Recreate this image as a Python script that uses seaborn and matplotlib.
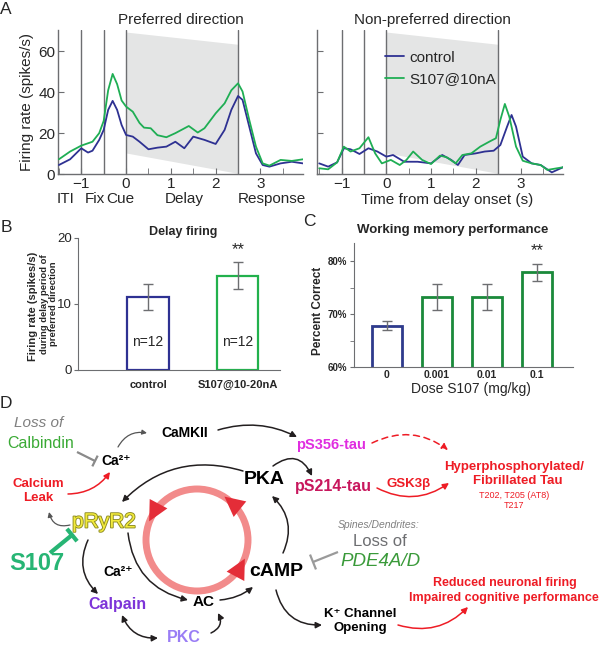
import numpy as np
import pandas as pd
import matplotlib
matplotlib.use('Agg')
import matplotlib.pyplot as plt
import matplotlib.patheffects as pe
from matplotlib.patches import Circle
from matplotlib.ticker import MultipleLocator, FixedLocator
import seaborn as sns

# ---------------- data ----------------
# Panel A, preferred direction (spikes/s)
pref_t_ctrl = [-1.5, -1.25, -1.0, -0.85, -0.75, -0.6, -0.5, -0.4, -0.3, -0.2, -0.1, 0.0, 0.15, 0.3, 0.5,
               0.7, 0.9, 1.1, 1.3, 1.5, 1.75, 2.0, 2.2, 2.35, 2.5, 2.6, 2.75, 2.9, 3.05, 3.2, 3.45, 3.7, 3.95]
pref_ctrl = [4.4, 7.2, 12.6, 10.5, 11.4, 16.7, 21.6, 31.4, 35.8, 31.4, 24, 19.1, 18.3, 15.8, 12.1,
             12.9, 13.4, 15.8, 12.6, 18.3, 16.7, 14.7, 21.6, 31.4, 38.2, 36.3, 23.2, 10.1, 4.4, 3.6, 5.2, 6, 5.2]
pref_t_s107 = [-1.5, -1.25, -1.0, -0.75, -0.6, -0.5, -0.4, -0.3, -0.2, -0.1, 0.0, 0.15, 0.3, 0.4, 0.55,
               0.7, 0.9, 1.1, 1.4, 1.6, 1.75, 2.0, 2.2, 2.35, 2.5, 2.6, 2.75, 2.9, 3.05, 3.2, 3.45, 3.7, 3.95]
pref_s107 = [7.2, 11, 13.9, 15.8, 20, 26, 41, 49, 44, 36, 33, 30.5, 25, 22.7, 22.4,
             19, 18, 20, 23.5, 20.3, 22.4, 29.7, 34.6, 41, 44.4, 40.4, 26.5, 13.4, 5.2, 4.1, 6.9, 6.4, 7.2]

# Panel A, non-preferred direction (spikes/s)
np_t_ctrl = [-1.5, -1.3, -1.1, -0.95, -0.8, -0.6, -0.4, -0.2, 0.0, 0.15, 0.4, 0.7, 1.0, 1.25, 1.45,
             1.6, 1.75, 2.0, 2.2, 2.4, 2.55, 2.7, 2.8, 2.9, 3.05, 3.25, 3.45, 3.7, 3.95]
np_ctrl = [5.2, 3.6, 5.7, 12.6, 12.1, 9.8, 12.6, 11, 8.5, 9.3, 6, 6, 5.2, 9.3, 6.9,
           4.4, 9.3, 10.1, 11, 11.4, 14.2, 23.2, 28.9, 23.2, 8.5, 5.2, 4.4, 0.8, 3.3]
np_t_s107 = [-1.5, -1.3, -1.1, -0.95, -0.8, -0.6, -0.4, -0.25, -0.1, 0.1, 0.3, 0.45, 0.6, 0.8, 1.0, 1.2,
             1.35, 1.55, 1.7, 1.9, 2.1, 2.3, 2.45, 2.55, 2.65, 2.75, 2.9, 3.05, 3.25, 3.45, 3.6, 3.95]
np_s107 = [2.8, 2.3, 5.7, 13.4, 11, 12.6, 18, 10.1, 5.2, 6.9, 4.4, 6.9, 11, 6.9, 4.9, 9,
           8.2, 5.2, 9.3, 10.1, 13.4, 15.8, 17.5, 26.5, 34.3, 28, 13.4, 6.5, 5.2, 4.4, 2, 3.3]

event_times = [-1.0, -0.5, 0.0, 2.5]
delay_window = [0.0, 2.5]
shade_top = [69.5, 63.5]
shade_bottom = [10.3, 0.3]
phase_labels = ['ITI', 'Fix', 'Cue', 'Delay', 'Response']

# Panel B, delay firing
b_groups = ['control', 'S107@10-20nA']
b_mean = [11.1, 14.3]
b_sem = [2.0, 2.0]
b_n = ['n=12', 'n=12']

# Panel C, working memory performance
c_doses = ['0', '0.001', '0.01', '0.1']
c_mean = [67.8, 73.2, 73.2, 77.9]
c_sem = [0.8, 2.5, 2.5, 1.6]

BLUE = '#2e3192'
GREEN = '#1fae54'
GRAY = '#6d6e71'
RED = '#ee1c25'

sns.set_style('ticks')
plt.rcParams['font.family'] = ['Liberation Sans', 'DejaVu Sans']

fig = plt.figure(figsize=(6.0, 6.47), dpi=100)


def style_trace_axes(ax):
    ax.set_xlim(-1.52, 3.95)
    ax.set_ylim(0, 70.5)
    sns.despine(ax=ax)
    for s in ['left', 'bottom']:
        ax.spines[s].set_color(GRAY)
        ax.spines[s].set_linewidth(1)
    ax.set_xticks([-1, 0, 1, 2, 3])
    ax.xaxis.set_minor_locator(MultipleLocator(0.5))
    ax.set_yticks([0, 20, 40, 60])
    ax.tick_params(which='both', direction='in', color=GRAY, labelsize=11, length=4, pad=2)
    for t in event_times:
        ax.axvline(t, color=GRAY, lw=1, zorder=1)
    ax.fill_between(delay_window, shade_bottom, shade_top, color='#e4e5e5', lw=0, zorder=0)


# ---------------- Panel A left ----------------
axL = fig.add_axes([58 / 600, 1 - 174 / 647, 245 / 600, 144 / 647])
style_trace_axes(axL)
sns.lineplot(x=pref_t_ctrl, y=pref_ctrl, ax=axL, color=BLUE, lw=1.3, zorder=3)
sns.lineplot(x=pref_t_s107, y=pref_s107, ax=axL, color=GREEN, lw=1.3, zorder=3)
axL.set_ylabel('Firing rate (spikes/s)', fontsize=11)
axL.yaxis.set_label_coords(-0.1, 0.5)
axL.text(0.5, 1.07, 'Preferred direction', transform=axL.transAxes, ha='center', va='center', fontsize=11)
for lab, x in zip(phase_labels, [-1.36, -0.7, -0.12, 1.3, 3.25]):
    axL.text(x, -0.175, lab, transform=axL.get_xaxis_transform(), ha='center', va='center', fontsize=11)

# ---------------- Panel A right ----------------
axR = fig.add_axes([317 / 600, 1 - 174 / 647, 246 / 600, 144 / 647])
style_trace_axes(axR)
axR.set_xlim(-1.55, 3.95)
axR.set_yticklabels([])
sns.lineplot(x=np_t_ctrl, y=np_ctrl, ax=axR, color=BLUE, lw=1.3, zorder=3, label='control')
sns.lineplot(x=np_t_s107, y=np_s107, ax=axR, color=GREEN, lw=1.3, zorder=3, label='S107@10nA')
axR.legend(loc='upper left', bbox_to_anchor=(0.25, 0.9), frameon=False, fontsize=11,
           handlelength=1.3, handletextpad=0.3, labelspacing=0.5, borderaxespad=0)
axR.text(0.47, 1.07, 'Non-preferred direction', transform=axR.transAxes, ha='center', va='center', fontsize=11)
axR.text(0.53, -0.18, 'Time from delay onset (s)', transform=axR.transAxes, ha='center', va='center', fontsize=11)

# ---------------- Panel B ----------------
axB = fig.add_axes([78 / 600, 1 - 370 / 647, 202 / 600, 132 / 647])
sns.barplot(x=b_groups, y=b_mean, ax=axB, width=0.46, color='white')
for p, c in zip(axB.patches, [BLUE, '#22b14c']):
    p.set_facecolor('white')
    p.set_edgecolor(c)
    p.set_linewidth(1.6)
axB.errorbar(range(len(b_groups)), b_mean, yerr=b_sem, fmt='none', ecolor=GRAY, elinewidth=1, capsize=3.5)
for i, lab in enumerate(b_n):
    axB.text(i, 4.2, lab, ha='center', va='center', fontsize=10)
axB.text(1, 18.2, '**', ha='center', va='center', fontsize=12)
axB.set_xlim(-0.78, 1.47)
axB.set_ylim(0, 20)
axB.set_yticks([0, 10, 20])
sns.despine(ax=axB)
for s in ['left', 'bottom']:
    axB.spines[s].set_color(GRAY)
axB.tick_params(axis='y', labelsize=9.5, color=GRAY, length=3, pad=1.5)
axB.tick_params(axis='x', length=0, pad=7)
for t in axB.get_xticklabels():
    t.set_fontweight('bold')
    t.set_fontsize(8)
axB.text(0.52, 1.045, 'Delay firing', transform=axB.transAxes, ha='center', va='center',
         fontsize=9, fontweight='bold')

# ---------------- Panel C ----------------
axC = fig.add_axes([354 / 600, 1 - 367 / 647, 219 / 600, 124 / 647])
sns.barplot(x=c_doses, y=c_mean, ax=axC, width=0.6, color='white')
for p, c in zip(axC.patches, ['#2e3a8c', '#1a8a3a', '#1a8a3a', '#1a8a3a']):
    p.set_facecolor('white')
    p.set_edgecolor(c)
    p.set_linewidth(2)
axC.errorbar(range(len(c_doses)), c_mean, yerr=c_sem, fmt='none', ecolor=GRAY, elinewidth=1, capsize=3.5)
axC.text(3, 82, '**', ha='center', va='center', fontsize=12)
axC.set_xlim(-0.66, 3.72)
axC.set_ylim(60, 83.4)
axC.set_yticks([60, 70, 80])
axC.set_yticklabels(['60%', '70%', '80%'], fontweight='bold', fontsize=7)
axC.yaxis.set_minor_locator(FixedLocator([65, 75]))
sns.despine(ax=axC)
for s in ['left', 'bottom']:
    axC.spines[s].set_color(GRAY)
axC.tick_params(axis='y', which='both', color=GRAY, length=3, pad=2)
axC.tick_params(axis='x', length=0, pad=2)
for t in axC.get_xticklabels():
    t.set_fontweight('bold')
    t.set_fontsize(7.5)
axC.set_xlabel('Dose S107 (mg/kg)', fontsize=10)
axC.xaxis.set_label_coords(0.534, -0.12)
axC.set_ylabel('Percent Correct', fontsize=8.5, fontweight='bold')
axC.yaxis.set_label_coords(-0.135, 0.45)
axC.text(0.45, 1.105, 'Working memory performance', transform=axC.transAxes, ha='center', va='center',
         fontsize=9.5, fontweight='bold')

# ---------------- overlay: panel letters and panel D diagram ----------------
ov = fig.add_axes([0, 0, 1, 1], zorder=10)
ov.set_xlim(0, 600)
ov.set_ylim(647, 0)
ov.axis('off')
ov.patch.set_visible(False)

for lab, x, y in [('A', 6, 10), ('B', 6, 227), ('C', 309, 222), ('D', 6, 403)]:
    ov.text(x, y, lab, ha='center', va='center', fontsize=12.5)

# Panel B y label (three lines)
ov.text(33, 306, 'Firing rate (spikes/s)', rotation=90, ha='center', va='center', fontsize=8, fontweight='bold')
ov.text(49, 304, 'during delay period of\npreferred direction', rotation=90, ha='center', va='center',
        fontsize=6.8, fontweight='bold', linespacing=1.0)


def arrow(p0, p1, rad=0.0, color='#231f20', lw=1.1, ls='-', head=9, style='-|>'):
    ov.annotate('', xy=p1, xytext=p0,
                arrowprops=dict(arrowstyle=style, color=color, lw=lw, ls=ls, shrinkA=0, shrinkB=0,
                                connectionstyle=f'arc3,rad={rad}', mutation_scale=head))


def tbar(p0, p1, color, lw, blen):
    p0 = np.array(p0, float)
    p1 = np.array(p1, float)
    d = (p1 - p0) / np.hypot(*(p1 - p0))
    n = np.array([-d[1], d[0]]) * blen / 2
    ov.plot([p0[0], p1[0]], [p0[1], p1[1]], color=color, lw=lw, solid_capstyle='butt')
    ov.plot([p1[0] - n[0], p1[0] + n[0]], [p1[1] - n[1], p1[1] + n[1]], color=color, lw=lw,
            solid_capstyle='butt')


def label(x, y, s, size=10, color='black', weight='bold', style='normal', **kw):
    return ov.text(x, y, s, ha='center', va='center', fontsize=size, color=color,
                   fontweight=weight, fontstyle=style, **kw)


# central cycle ring
cx, cy, r = 197, 540, 51
ov.add_patch(Circle((cx, cy), r, fill=False, ec='#f28b8b', lw=5, zorder=2))
for th in [51, 152, -28]:
    a = np.deg2rad(th)
    pt = np.array([cx + r * np.cos(a), cy - r * np.sin(a)])
    tan = np.array([-np.sin(a), -np.cos(a)])
    ov.annotate('', xy=pt + tan * 6, xytext=pt - tan * 10,
                arrowprops=dict(arrowstyle='-|>,head_length=1.2,head_width=0.6', color='#e42d38',
                                lw=0, mutation_scale=12, shrinkA=0, shrinkB=0), zorder=3)

# node labels
label(39, 423, 'Loss of', size=11, color='#808080', weight='normal', style='italic')
label(41, 443, 'Calbindin', size=11.5, color='#3aaa35', weight='normal')
label(116, 461, 'Ca²⁺', size=10)
label(185, 433, 'CaMKII', size=10)
label(331, 445, 'pS356-tau', size=10.5, color='#e02de0')
label(333, 487, 'pS214-tau', size=11.5, color='#c8175d')
label(264, 480, 'PKA', size=14)
label(38, 491, 'Calcium\nLeak', size=9.5, color=RED, linespacing=1.2)
label(104, 522, 'pRyR2', size=15, color='#f2ea3c', weight='normal',
      path_effects=[pe.withStroke(linewidth=1.3, foreground='#8c8a20')])
label(37, 563, 'S107', size=17, color='#27b574')
label(118, 572, 'Ca²⁺', size=10)
label(117, 605, 'Calpain', size=11.5, color='#7d34d8')
label(204, 602, 'AC', size=11)
label(184, 638, 'PKC', size=11.5, color='#9a7df5')
label(276, 572, 'cAMP', size=14)
label(360, 621, 'K⁺ Channel\nOpening', size=9.5, linespacing=1.2)
label(505, 583, 'Reduced neuronal firing', size=9, color=RED)
label(504, 598, 'Impaired cognitive performance', size=9, color=RED)
label(379, 525, 'Spines/Dendrites:', size=7.5, color='#808080', weight='normal', style='italic')
label(380, 542, 'Loss of', size=12, color='#6d6e71', weight='normal')
label(380, 562, 'PDE4A/D', size=13.5, color='#3a9a3a', weight='normal', style='italic')
label(409, 484, 'GSK3β', size=9.5, color=RED)
label(514, 467, 'Hyperphosphorylated/', size=9.5, color=RED)
label(518, 481, 'Fibrillated Tau', size=9.5, color=RED)
label(514, 495, 'T202, T205 (AT8)', size=6.5, color=RED, weight='normal')
label(514, 506, 'T217', size=6.5, color=RED, weight='normal')

# inhibitions
tbar((77, 452), (95, 461), '#8a8a8a', 1.6, 12)
tbar((50, 553), (72, 535), '#27b574', 3, 16)
tbar((338, 552), (313, 562), '#9a9a9a', 1.6, 16)

# arrows
arrow((118, 447), (147, 433), rad=-0.35, color='#555555', lw=0.9, head=7)
arrow((218, 430), (297, 437), rad=-0.2)
arrow((243, 471), (122, 502), rad=0.3)
arrow((273, 466), (312, 476), rad=-0.6)
arrow((283, 553), (272, 496), rad=0.35)
arrow((128, 533), (188, 600), rad=0.35)
arrow((220, 600), (253, 587), rad=0.15)
arrow((88, 540), (98, 594), rad=0.35)
arrow((122, 615), (158, 638), rad=0.35, style='<|-|>')
arrow((211, 633), (218, 613), rad=0.5)
arrow((70, 525), (49, 512), rad=-0.5, color='#555555', lw=0.9, head=7)
arrow((68, 494), (110, 472), rad=0.25, color=RED)
arrow((276, 590), (322, 625), rad=0.4)
arrow((398, 625), (468, 607), rad=0.3, color=RED)
arrow((372, 443), (448, 450), rad=-0.3, color=RED, ls=(0, (4, 3)))
arrow((377, 488), (449, 483), rad=0.3, color=RED)

fig.savefig('out.png', dpi=100)
